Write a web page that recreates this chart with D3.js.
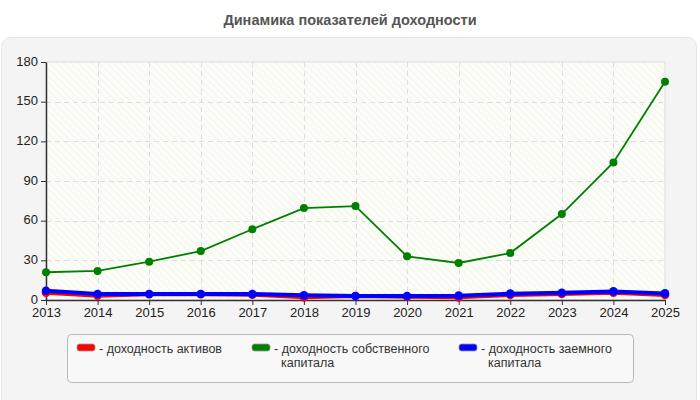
<!DOCTYPE html>
<html>
<head>
<meta charset="utf-8">
<script src="https://cdn.jsdelivr.net/npm/d3@7"></script>
<style>
  body { margin: 0; background: #fff; font-family: "Liberation Sans", Arial, sans-serif; }
  svg { display: block; }
</style>
</head>
<body>
<div id="chart"></div>
<script>
const years = [2013, 2014, 2015, 2016, 2017, 2018, 2019, 2020, 2021, 2022, 2023, 2024, 2025];
const assetsReturn = [5.5, 3.3, 4.3, 4.3, 4.0, 2.0, 3.0, 2.5, 2.0, 3.8, 4.5, 5.5, 3.8];
const equityReturn = [21, 22, 29, 37, 53.5, 69.5, 71, 33, 28, 35.5, 65, 104, 165];
const debtReturn = [7, 4.5, 4.5, 4.5, 4.5, 3.5, 3, 3, 3.3, 4.8, 5.5, 6.5, 5];
const yTicks = [0, 30, 60, 90, 120, 150, 180];

const series = [
    { name: "доходность активов", lines: ["- доходность активов"], color: "#ff0000", values: assetsReturn, width: 4, r: 4.3 },
    { name: "доходность собственного капитала", lines: ["- доходность собственного", "капитала"], color: "#008000", values: equityReturn, width: 1.8, r: 4 },
    { name: "доходность заемного капитала", lines: ["- доходность заемного", "капитала"], color: "#0000ff", values: debtReturn, width: 4, r: 4.3 }
];

const width = 700, height = 400;
const plot = { left: 46, right: 665, top: 62, bottom: 300 };

const svg = d3.select("#chart").append("svg")
    .attr("width", width).attr("height", height);

// фон области построения со штриховкой
const defs = svg.append("defs");
const pat = defs.append("pattern")
    .attr("id", "hatch").attr("width", 5).attr("height", 5)
    .attr("patternUnits", "userSpaceOnUse")
    .attr("patternTransform", "rotate(-45)");
pat.append("rect").attr("width", 5).attr("height", 5).attr("fill", "#fdfdf8");
pat.append("line").attr("x1", 0).attr("y1", 0).attr("x2", 0).attr("y2", 5)
    .attr("stroke", "#f0f0ec").attr("stroke-width", 1.5);

// заголовок
svg.append("text")
    .attr("x", 350).attr("y", 25)
    .attr("text-anchor", "middle")
    .attr("font-size", 14.5).attr("font-weight", "bold")
    .attr("fill", "#555")
    .text("Динамика показателей доходности");

// внешняя панель
svg.append("rect")
    .attr("x", 1.5).attr("y", 37.5).attr("width", 695).attr("height", 372)
    .attr("rx", 9)
    .attr("fill", "#f4f4f4").attr("stroke", "#e6e6e6");

const x = d3.scaleLinear().domain([2013, 2025]).range([plot.left, plot.right]);
const y = d3.scaleLinear().domain([0, 180]).range([plot.bottom, plot.top]);

svg.append("rect")
    .attr("x", plot.left).attr("y", plot.top)
    .attr("width", plot.right - plot.left).attr("height", plot.bottom - plot.top)
    .attr("fill", "url(#hatch)")
    .attr("stroke", "#dcdcdc");

// сетка
const grid = svg.append("g").attr("stroke", "#dedede").attr("stroke-dasharray", "5,4");
grid.selectAll(".gx").data(years.slice(1, -1)).join("line")
    .attr("x1", d => Math.round(x(d)) + 0.5).attr("x2", d => Math.round(x(d)) + 0.5)
    .attr("y1", plot.top).attr("y2", plot.bottom);
grid.selectAll(".gy").data(yTicks.slice(1, -1)).join("line")
    .attr("x1", plot.left).attr("x2", plot.right)
    .attr("y1", d => Math.round(y(d)) + 0.5).attr("y2", d => Math.round(y(d)) + 0.5);

// оси
const yAxis = svg.append("g")
    .attr("transform", `translate(${plot.left},0)`)
    .call(d3.axisLeft(y).tickValues(yTicks).tickSize(5).tickSizeOuter(0).tickPadding(3));
const xAxis = svg.append("g")
    .attr("transform", `translate(0,${plot.bottom})`)
    .call(d3.axisBottom(x).tickValues(years).tickFormat(d3.format("d")).tickSize(5).tickSizeOuter(0).tickPadding(3));
[yAxis, xAxis].forEach(a => {
    a.select(".domain").attr("stroke", "#333").attr("stroke-width", 1.5);
    a.selectAll(".tick line").attr("stroke", "#333");
    a.selectAll("text").attr("font-size", 13).attr("fill", "#222")
        .attr("font-family", "'Liberation Sans', Arial, sans-serif");
});
yAxis.selectAll("text").attr("dy", "0.25em");

// линии
const line = d3.line().x((d, i) => x(years[i])).y(d => y(d));
const drawOrder = [series[1], series[0], series[2]];
drawOrder.forEach(s => {
    svg.append("path")
        .datum(s.values)
        .attr("d", line)
        .attr("fill", "none")
        .attr("stroke", s.color)
        .attr("stroke-width", s.width);
    svg.append("g").selectAll("circle")
        .data(s.values)
        .join("circle")
        .attr("cx", (d, i) => x(years[i]))
        .attr("cy", d => y(d))
        .attr("r", s.r)
        .attr("fill", s.color);
});

// легенда
svg.append("rect")
    .attr("x", 67.5).attr("y", 334.5).attr("width", 566).attr("height", 48)
    .attr("rx", 4)
    .attr("fill", "#f8f8f8").attr("stroke", "#b8b8b8");

const legendX = [77, 252, 459];
const items = svg.append("g").selectAll("g")
    .data(series)
    .join("g")
    .attr("transform", (d, i) => `translate(${legendX[i]},344)`);
items.append("rect")
    .attr("width", 18).attr("height", 7).attr("rx", 2.5)
    .attr("fill", d => d.color).attr("stroke", "#999").attr("stroke-width", 0.8);
items.selectAll("text")
    .data(d => d.lines)
    .join("text")
    .attr("x", (d, i) => i === 0 ? 22 : 29)
    .attr("y", (d, i) => 9 + i * 14)
    .attr("font-size", 12.5).attr("fill", "#333")
    .text(d => d);
</script>
</body>
</html>
